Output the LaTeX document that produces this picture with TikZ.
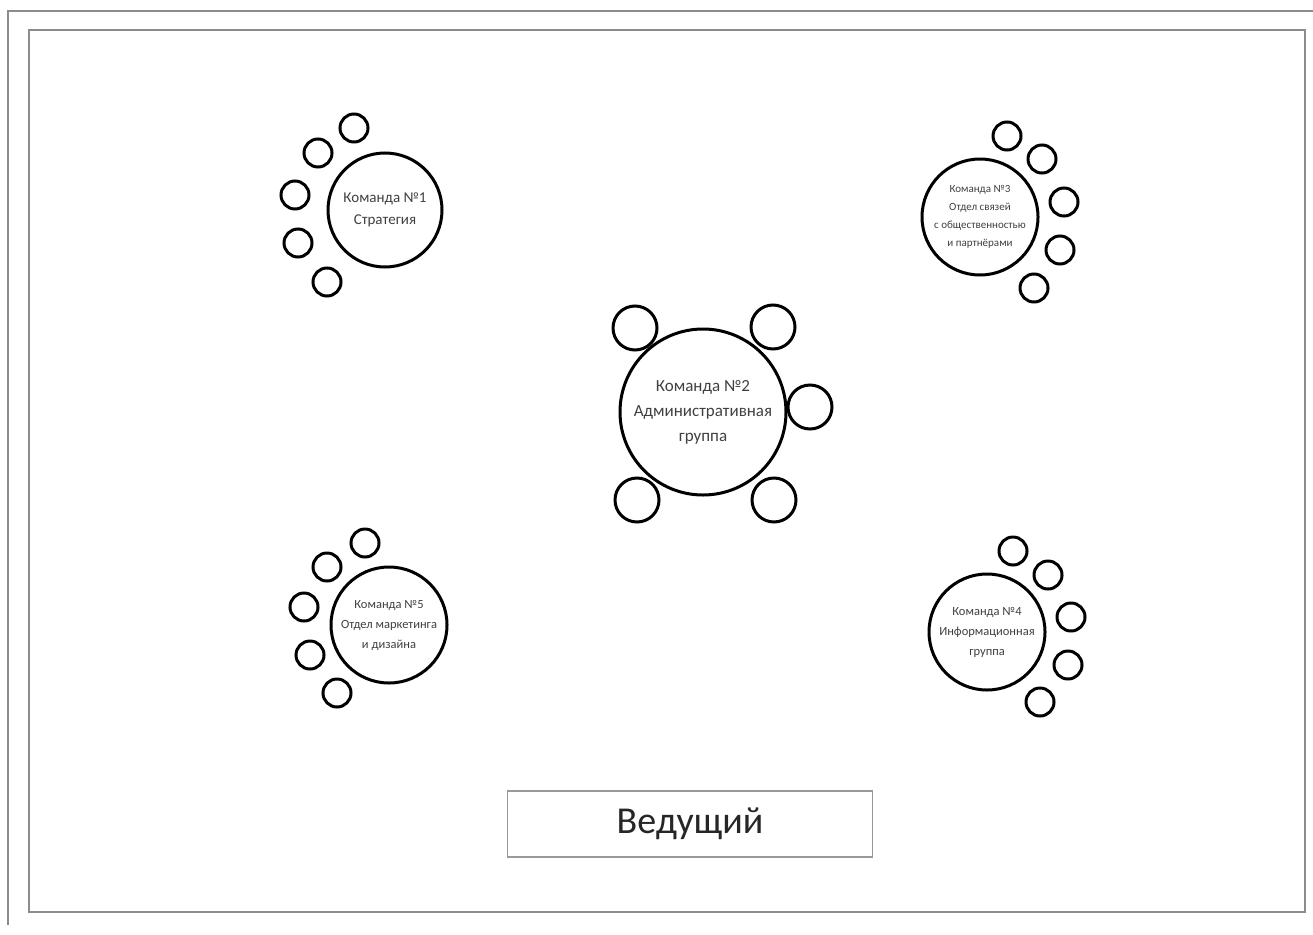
\documentclass[tikz,border=0pt]{standalone}
\usepackage{fontspec}
\setmainfont{Carlito}
\usepackage{tikz}

\begin{document}
\begin{tikzpicture}[x=1pt, y=-1pt,
  team/.style={draw, circle, line width=3pt, align=center, text=black!75, inner sep=0pt},
  seat/.style={draw, circle, line width=3pt, inner sep=0pt, minimum size=#1},
  seat/.default=28pt,
  frame/.style={draw=black!45, line width=1.6pt}
]
\useasboundingbox (0,0) rectangle (1313,934);
\draw[frame] (8,925) -- (8,11) -- (1313,11);
\draw[frame] (29,30) rectangle (1305,912);

% tables
\node[team, minimum size=114pt, font=\fontsize{15}{22}\selectfont] (t1) at (385,210) {Команда №1\\Стратегия};
\node[team, minimum size=116pt, font=\fontsize{11}{18}\selectfont] (t3) at (980,217) {Команда №3\\Отдел связей\\с общественностью\\и партнёрами};
\node[team, minimum size=166pt, font=\fontsize{17}{25}\selectfont] (t2) at (703,412) {Команда №2\\Административная\\группа};
\node[team, minimum size=116pt, font=\fontsize{12.5}{20}\selectfont] (t5) at (389,625) {Команда №5\\Отдел маркетинга\\и дизайна};
\node[team, minimum size=116pt, font=\fontsize{12.5}{20}\selectfont] (t4) at (987,632) {Команда №4\\Информационная\\группа};

% seats
\foreach \n/\x/\y in {a/354/128, b/318/153, c/295/195, d/298/243, e/327/282}
  \node[seat] (t1\n) at (\x,\y) {};
\foreach \n/\x/\y in {a/1007/136, b/1042/159, c/1064/202, d/1060/250, e/1034/288}
  \node[seat] (t3\n) at (\x,\y) {};
\foreach \n/\x/\y in {a/635/328, b/773/327, c/810/407, d/637/500, e/774/500}
  \node[seat=44pt] (t2\n) at (\x,\y) {};
\foreach \n/\x/\y in {a/365/543, b/327/567, c/304/607, d/310/655, e/337/693}
  \node[seat] (t5\n) at (\x,\y) {};
\foreach \n/\x/\y in {a/1013/551, b/1048/575, c/1071/617, d/1068/665, e/1040/702}
  \node[seat] (t4\n) at (\x,\y) {};

\node[draw=black!40, line width=1.4pt, minimum width=365pt, minimum height=66pt,
  font=\fontsize{38}{40}\selectfont, text=black!85] (host) at (690,824) {Ведущий};
\end{tikzpicture}
\end{document}
